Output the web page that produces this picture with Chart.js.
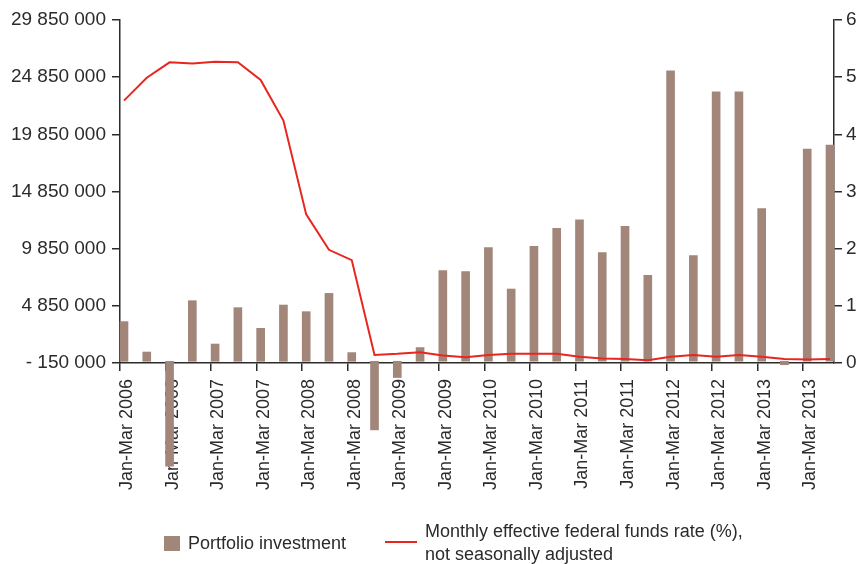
<!DOCTYPE html>
<html>
<head>
<meta charset="utf-8">
<script src="https://cdn.jsdelivr.net/npm/chart.js@4/dist/chart.umd.min.js"></script>
<style>
  html, body { margin: 0; padding: 0; background: #fff; }
  #wrap { position: relative; width: 861px; height: 564px; overflow: hidden; }
  #chart { position: absolute; left: 0; top: 0; }
  .lg { position: absolute; font-family: 'Liberation Sans', Arial, sans-serif;
        font-size: 18px; color: #2b2b2b; line-height: 23px; white-space: nowrap; }
</style>
</head>
<body>
<div id="wrap">
  <canvas id="chart" width="861" height="564"></canvas>
  <div class="lg" style="left:164px;top:536px;width:16px;height:15px;background:#a2867a"></div>
  <div class="lg" style="left:188px;top:532px">Portfolio investment</div>
  <div class="lg" style="left:385px;top:541px;width:32px;height:2px;background:#e8261f"></div>
  <div class="lg" style="left:425px;top:520px">Monthly effective federal funds rate (%),<br>not seasonally adjusted</div>
</div>
<script>
// quarterly periods, 2006 Q1 .. 2013 Q4
const periods = [
  'Jan-Mar 2006', 'Apr-Jun 2006', 'Jul-Sep 2006', 'Oct-Dec 2006',
  'Jan-Mar 2007', 'Apr-Jun 2007', 'Jul-Sep 2007', 'Oct-Dec 2007',
  'Jan-Mar 2008', 'Apr-Jun 2008', 'Jul-Sep 2008', 'Oct-Dec 2008',
  'Jan-Mar 2009', 'Apr-Jun 2009', 'Jul-Sep 2009', 'Oct-Dec 2009',
  'Jan-Mar 2010', 'Apr-Jun 2010', 'Jul-Sep 2010', 'Oct-Dec 2010',
  'Jan-Mar 2011', 'Apr-Jun 2011', 'Jul-Sep 2011', 'Oct-Dec 2011',
  'Jan-Mar 2012', 'Apr-Jun 2012', 'Jul-Sep 2012', 'Oct-Dec 2012',
  'Jan-Mar 2013', 'Apr-Jun 2013', 'Jul-Sep 2013', 'Oct-Dec 2013',
];

// labels as printed under the axis (one every second period)
const tickLabels = [
  'Jan-Mar 2006', 'Jan-Mar 2006', 'Jan-Mar 2007', 'Jan-Mar 2007',
  'Jan-Mar 2008', 'Jan-Mar 2008', 'Jan-Mar 2009', 'Jan-Mar 2009',
  'Jan-Mar 2010', 'Jan-Mar 2010', 'Jan-Mar 2011', 'Jan-Mar 2011',
  'Jan-Mar 2012', 'Jan-Mar 2012', 'Jan-Mar 2013', 'Jan-Mar 2013',
];

const portfolio = [
  3470000, 810000, -9180000, 5300000,
  1510000, 4690000, 2880000, 4920000,
  4340000, 5940000, 760000, -6000000,
  -1420000, 1200000, 7930000, 7840000,
  9940000, 6320000, 10050000, 11630000,
  12380000, 9500000, 11800000, 7520000,
  25410000, 9240000, 23570000, 23570000,
  13350000, -300000, 18560000, 18910000,
];

const fedRate = [
  4.59, 4.99, 5.26, 5.24,
  5.27, 5.26, 4.95, 4.24,
  2.60, 1.98, 1.80, 0.14,
  0.16, 0.19, 0.13, 0.10,
  0.14, 0.16, 0.16, 0.16,
  0.11, 0.08, 0.07, 0.05,
  0.11, 0.14, 0.11, 0.14,
  0.11, 0.07, 0.06, 0.07,
];

const leftTicks = [-150000, 4850000, 9850000, 14850000, 19850000, 24850000, 29850000];
const rightTicks = [0, 1, 2, 3, 4, 5, 6];

const BAR = '#a2867a';
const RED = '#e8261f';
const INK = '#2b2b2b';
const FONT = "'Liberation Sans', Arial, sans-serif";
const EDGE = 0.1756; // half a bar, in index units

const fmtThousands = v => (v < 0 ? '- ' : '') +
  String(Math.abs(v)).replace(/\B(?=(\d{3})+(?!\d))/g, ' ');

new Chart(document.getElementById('chart'), {
  type: 'bar',
  data: {
    datasets: [
      {
        type: 'line',
        label: 'Monthly effective federal funds rate (%), not seasonally adjusted',
        data: fedRate.map((v, i) => ({ x: i, y: v })),
        yAxisID: 'y1',
        borderColor: RED,
        borderWidth: 2,
        pointRadius: 0,
        tension: 0,
        order: 0,
      },
      {
        type: 'bar',
        label: 'Portfolio investment',
        data: portfolio.map((v, i) => ({ x: i, y: v })),
        yAxisID: 'y',
        backgroundColor: BAR,
        barThickness: 8,
        clip: false,
        order: 1,
      },
    ],
  },
  options: {
    responsive: false,
    animation: false,
    layout: { padding: { top: 20, left: 0, right: 0, bottom: 0 } },
    plugins: { legend: { display: false }, tooltip: { enabled: false } },
    scales: {
      x: {
        type: 'linear',
        min: -EDGE,
        max: periods.length - 1 + EDGE,
        offset: false,
        afterBuildTicks: s => {
          s.ticks = tickLabels.map((_, k) => ({ value: 2 * k - EDGE }));
        },
        afterFit: s => { s.height = 201; },
        border: { color: INK, width: 1.5 },
        grid: { drawOnChartArea: false, offset: false, tickLength: 8, color: INK, lineWidth: 1.5 },
        ticks: {
          autoSkip: false,
          minRotation: 90,
          maxRotation: 90,
          padding: 8,
          labelOffset: 7,
          color: INK,
          font: { family: FONT, size: 18 },
          callback: (v, k) => tickLabels[k],
        },
      },
      y: {
        position: 'left',
        min: leftTicks[0],
        max: leftTicks[leftTicks.length - 1],
        afterBuildTicks: s => { s.ticks = leftTicks.map(v => ({ value: v })); },
        afterFit: s => { s.width = 120; },
        border: { color: INK, width: 1.5 },
        grid: { drawOnChartArea: false, tickLength: 8, color: INK, lineWidth: 1.5 },
        ticks: {
          padding: 6,
          color: INK,
          font: { family: FONT, size: 19 },
          callback: v => fmtThousands(v),
        },
      },
      y1: {
        position: 'right',
        min: 0,
        max: 6,
        afterBuildTicks: s => { s.ticks = rightTicks.map(v => ({ value: v })); },
        afterFit: s => { s.width = 27; },
        border: { color: INK, width: 1.5 },
        grid: { drawOnChartArea: false, tickLength: 8, color: INK, lineWidth: 1.5 },
        ticks: {
          padding: 4,
          color: INK,
          font: { family: FONT, size: 19 },
        },
      },
    },
  },
});
</script>
</body>
</html>
